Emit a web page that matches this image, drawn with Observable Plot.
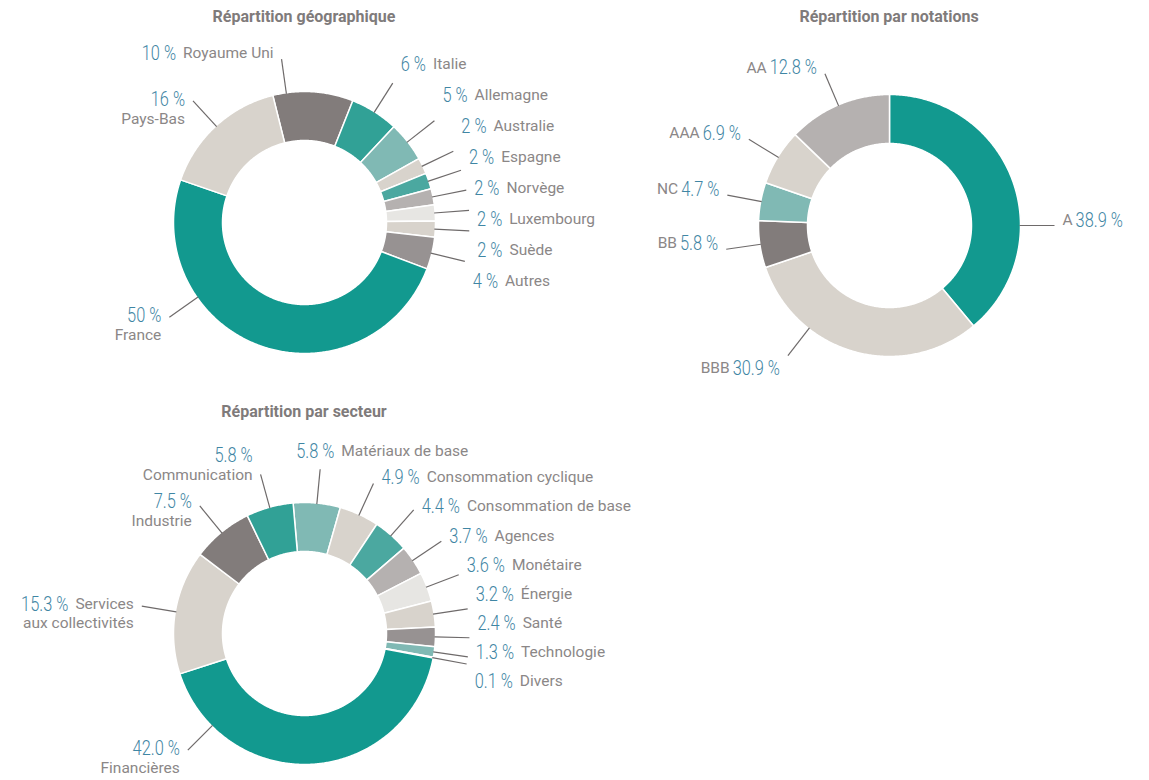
<!DOCTYPE html>
<html><head><meta charset="utf-8">
<script src="https://cdn.jsdelivr.net/npm/d3@7"></script>
<script src="https://cdn.jsdelivr.net/npm/@observablehq/plot@0.6"></script>
<style>
body{margin:0;background:#fff;}
#root{position:relative;width:1149px;height:780px;overflow:hidden;}
.panel{position:absolute;}
.panel svg{overflow:visible;}
.title{position:absolute;font-family:Roboto,sans-serif;font-weight:bold;font-size:16px;color:#7f7b7b;text-align:center;width:400px;line-height:18px;}
</style></head><body><div id="root"></div>
<script>
// ---------- data ----------
const geoCategories = ["Royaume Uni","Italie","Allemagne","Australie","Espagne","Norvège","Luxembourg","Suède","Autres","France","Pays-Bas"];
const geoValues = [10,6,5,2,2,2,2,2,4,50,16];

const ratingCategories = ["A","BBB","BB","NC","AAA","AA"];
const ratingValues = [38.9,30.9,5.8,4.7,6.9,12.8];

const sectorCategories = ["Matériaux de base","Consommation cyclique","Consommation de base","Agences","Monétaire","Énergie","Santé","Technologie","Divers","Financières","Services\naux collectivités","Industrie","Communication"];
const sectorValues = [5.8,4.9,4.4,3.7,3.6,3.2,2.4,1.3,0.1,42.0,15.3,7.5,5.8];

const titles = ["Répartition géographique","Répartition par notations","Répartition par secteur"];

// ---------- styles ----------
const C = {teal:"#12998f", tealMid:"#31a196", tealSoft:"#4ba8a0", tealLight:"#80b9b4", dark:"#827c7b", mid:"#979292", light:"#b5b1b0", beige:"#d8d3cc", pale:"#e7e6e3"};
const geoColors = [C.dark, C.tealMid, C.tealLight, C.beige, C.tealSoft, C.light, C.pale, C.beige, C.mid, C.teal, C.beige];
const ratingColors = [C.teal, C.beige, C.dark, C.tealLight, C.beige, C.light];
const sectorColors = [C.tealLight, C.beige, C.tealSoft, C.light, C.pale, C.beige, C.mid, C.tealLight, C.beige, C.teal, C.beige, C.dark, C.tealMid];

const NUM_FAMILY = 'Roboto,sans-serif', NUM_WEIGHT = 300, NUM_SIZE = 21, NUM_SQUEEZE = 0.78, NUM_COLOR = "#3f86a4";
const NAME_FAMILY = 'Roboto,"Noto Sans",sans-serif', NAME_WEIGHT = 400, NAME_SIZE = 15.5, NAME_COLOR = "#8b8787";
const LEADER_COLOR = "#6e6a6a";

const R = 131, R0 = 82, LEAD = 34;
const rad = a => a * Math.PI / 180;
const pt = (a, r) => ({x: r * Math.sin(rad(a)), y: -r * Math.cos(rad(a))});
const ctx = document.createElement("canvas").getContext("2d");
function textWidth(s, weight, size, family) { ctx.font = `${weight} ${size}px ${family}`; return ctx.measureText(s).width; }
const numWidth = s => textWidth(s, NUM_WEIGHT, NUM_SIZE, NUM_FAMILY) * NUM_SQUEEZE;
const nameWidth = s => textWidth(s, NAME_WEIGHT, NAME_SIZE, NAME_FAMILY);

function spread(items, gap) {
  items.sort((a, b) => a.ty - b.ty);
  let clusters = items.map(d => ({items: [d], top: d.ty}));
  let changed = true;
  while (changed) {
    changed = false;
    for (let i = 1; i < clusters.length; i++) {
      const a = clusters[i - 1], b = clusters[i];
      if (b.top < a.top + a.items.length * gap) {
        const its = a.items.concat(b.items);
        const mean = d3.mean(its, d => d.ty);
        clusters.splice(i - 1, 2, {items: its, top: mean - (its.length - 1) * gap / 2});
        changed = true; break;
      }
    }
  }
  clusters.forEach(c => c.items.forEach((d, j) => d.y = c.top + j * gap));
}

function donut(cfg) {
  const total = d3.sum(cfg.values);
  let acc = cfg.start;
  const slices = cfg.categories.map((cat, i) => {
    const a0 = acc, a1 = acc + cfg.values[i] / total * 360; acc = a1;
    return {cat, value: cfg.values[i], a0, a1, mid: (a0 + a1) / 2};
  });
  const ring = [];
  for (const s of slices) {
    const n = Math.max(2, Math.ceil((s.a1 - s.a0) / 0.5));
    for (let k = 0; k <= n; k++) ring.push({cat: s.cat, ...pt(s.a0 + (s.a1 - s.a0) * k / n, R)});
    for (let k = n; k >= 0; k--) ring.push({cat: s.cat, ...pt(s.a0 + (s.a1 - s.a0) * k / n, R0)});
  }
  const leaders = [], lines = [], rightLines = [];
  for (const s of slices) {
    const norm = ((s.mid % 360) + 360) % 360;
    const shift = norm - s.mid;
    const a0 = s.a0 + shift, a1 = s.a1 + shift;
    const m = Math.min(6, (a1 - a0) * 0.25);
    const side = norm < 160 ? "right" : "left";
    const top = cfg.topStyle && (norm <= 10 || norm >= 350);
    let ang = norm;
    if (top && cfg.topStyle === "left") ang = a0 + m;
    if (!top && side === "left" && cfg.leftMin) ang = Math.max(ang, cfg.leftMin);
    if (!top && side === "right" && cfg.rightMin) ang = Math.max(ang, cfg.rightMin);
    ang = Math.min(Math.max(ang, a0 + m), a1 - m);
    const p0 = pt(ang, R - 1), p1 = pt(ang, R + LEAD);
    leaders.push({x1: p0.x, y1: p0.y, x2: p1.x, y2: p1.y});
    const num = {text: cfg.fmt(s.value), type: "num"};
    const flat = {text: s.cat.replace("\n", " "), type: "name"};
    const one = cfg.nameFirst ? [flat, num] : [num, flat];
    const cos = Math.cos(rad(ang));
    if (top && cfg.topStyle === "above") {
      lines.push({pieces: one, anchor: "start", x: p1.x - 24, y: p1.y - 18});
    } else if (top) {
      lines.push({pieces: one, anchor: "end", x: p1.x - 8, y: p1.y - 6});
    } else if (side === "right") {
      const L = {pieces: one, anchor: "start", x: p1.x + 8, ty: p1.y - 5};
      lines.push(L); rightLines.push(L);
    } else if (cfg.leftTwoLine) {
      const parts = s.cat.split("\n");
      const off = -2 - 17 * Math.min(1, Math.max(0, (cos - 0.75) / 0.15));
      const y1 = p1.y + off;
      if (parts.length > 1) {
        lines.push({pieces: [num, {text: parts[0], type: "name"}], anchor: "end", x: p1.x - 8, y: y1});
        lines.push({pieces: [{text: parts[1], type: "name"}], anchor: "end", x: p1.x - 8, y: y1 + 19});
      } else {
        lines.push({pieces: [num], anchor: "end", x: p1.x - 8, y: y1});
        lines.push({pieces: [{text: parts[0], type: "name"}], anchor: "end", x: p1.x - 8, y: y1 + 20});
      }
    } else {
      lines.push({pieces: one, anchor: "end", x: p1.x - 8, y: p1.y + (cos < -0.5 ? 13 : -6)});
    }
  }
  spread(rightLines, cfg.gap);
  const gapPx = cfg.nameFirst ? 3 : 7;
  const pieces = [];
  for (const L of lines) {
    const list = L.anchor === "start" ? L.pieces : L.pieces.slice().reverse();
    let cur = L.x;
    for (const p of list) {
      pieces.push({x: cur, y: L.y, text: p.text, type: p.type, anchor: L.anchor});
      const w = p.type === "num" ? numWidth(p.text) : nameWidth(p.text);
      cur += (L.anchor === "start" ? 1 : -1) * (w + gapPx);
    }
  }
  const textMark = (type, anchor) => Plot.text(pieces.filter(d => d.type === type && d.anchor === anchor), {
    x: "x", y: "y", text: "text", textAnchor: anchor, lineAnchor: "middle",
    fill: type === "num" ? NUM_COLOR : NAME_COLOR,
    fontSize: type === "num" ? NUM_SIZE : NAME_SIZE,
    fontWeight: type === "num" ? NUM_WEIGHT : NAME_WEIGHT,
    fontFamily: type === "num" ? NUM_FAMILY : NAME_FAMILY
  });
  const svg = Plot.plot({
    width: cfg.W, height: cfg.H, margin: 0,
    x: {axis: null, domain: [-cfg.cx, cfg.W - cfg.cx], range: [0, cfg.W]},
    y: {axis: null, domain: [-cfg.cy, cfg.H - cfg.cy], range: [0, cfg.H]},
    color: {domain: cfg.categories, range: cfg.colors},
    style: {background: "transparent", overflow: "visible"},
    marks: [
      Plot.line(ring, {x: "x", y: "y", z: "cat", fill: "cat", stroke: "white", strokeWidth: 1.5, curve: "linear-closed"}),
      Plot.link(leaders, {x1: "x1", y1: "y1", x2: "x2", y2: "y2", stroke: LEADER_COLOR, strokeWidth: 1.2}),
      textMark("num", "start"), textMark("num", "end"),
      textMark("name", "start"), textMark("name", "end")
    ]
  });
  // condense the percentage figures (narrow hand-lettered look)
  svg.querySelectorAll("text").forEach(el => {
    const g = el.closest("g");
    const f = (el.getAttribute("fill") || (g && g.getAttribute("fill")) || "").toLowerCase();
    if (f === NUM_COLOR) {
      el.setAttribute("textLength", numWidth(el.textContent));
      el.setAttribute("lengthAdjust", "spacingAndGlyphs");
    }
  });
  const panel = document.createElement("div");
  panel.className = "panel";
  panel.style.left = cfg.left + "px"; panel.style.top = cfg.top + "px";
  panel.appendChild(svg);
  document.getElementById("root").appendChild(panel);
  const t = document.createElement("div");
  t.className = "title"; t.textContent = cfg.title;
  t.style.left = (cfg.left + cfg.cx - 200) + "px"; t.style.top = (cfg.top + 8) + "px";
  document.getElementById("root").appendChild(t);
}

const fmtInt = v => d3.format("d")(v) + " %";
const fmt1 = v => d3.format(".1f")(v) + " %";

donut({title: titles[0], categories: geoCategories, values: geoValues, colors: geoColors, fmt: fmtInt,
  start: -14, left: 0, top: 0, W: 640, H: 395, cx: 304, cy: 222,
  leftTwoLine: true, topStyle: "left", leftMin: 235, gap: 31});
donut({title: titles[1], categories: ratingCategories, values: ratingValues, colors: ratingColors, fmt: fmt1,
  start: 0, left: 640, top: 0, W: 509, H: 395, cx: 249, cy: 225,
  nameFirst: true, leftMin: 218, rightMin: 90, gap: 26});
donut({title: titles[2], categories: sectorCategories, values: sectorValues, colors: sectorColors, fmt: fmt1,
  start: -5, left: 0, top: 395, W: 700, H: 385, cx: 304, cy: 238,
  leftTwoLine: true, topStyle: "above", leftMin: 225, gap: 29});
</script></body></html>
